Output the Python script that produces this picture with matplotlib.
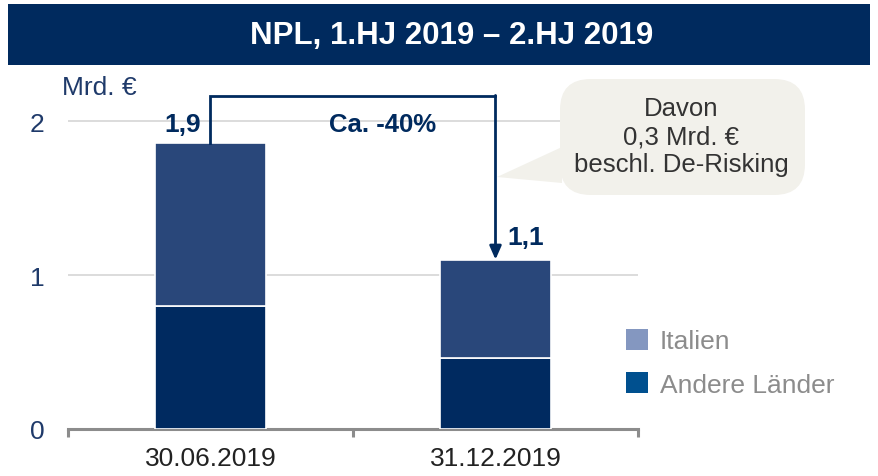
import matplotlib.pyplot as plt
from matplotlib.patches import Patch, FancyBboxPatch, Polygon, Rectangle

plt.rcParams['font.family'] = ['Liberation Sans', 'DejaVu Sans']

# Data (Mrd. EUR)
dates = ['30.06.2019', '31.12.2019']
andere_laender = [0.80, 0.46]
italien = [1.06, 0.64]
totals_text = ['1,9', '1,1']
change_text = 'Ca. -40%'
yticks = [0, 1, 2]

W, H = 879, 477
navy = '#002A5E'
c_andere = '#002A60'
c_italien = '#29477A'


def px(x, y):
    # figure pixel (from top-left) -> figure fraction
    return x / W, 1 - y / H


fig = plt.figure(figsize=(W / 100, H / 100), dpi=100)

# title bar
fig.patches.append(Rectangle(px(8, 66), 862 / W, 61 / H, transform=fig.transFigure,
                             facecolor=navy, edgecolor='none'))
fig.text(*px(452, 36), 'NPL, 1.HJ 2019 \u2013 2.HJ 2019', color='white', fontsize=22.5,
         fontweight='bold', ha='center', va='center')

ax = fig.add_axes([68 / W, (H - 430) / H, 570 / W, 2.25 * 154 / H])
x = range(len(dates))
totals = [a + b for a, b in zip(andere_laender, italien)]
ax.bar(x, andere_laender, width=0.386, color=c_andere, edgecolor='white', linewidth=1.2, zorder=3)
ax.bar(x, italien, bottom=andere_laender, width=0.386, color=c_italien, edgecolor='white',
       linewidth=1.2, zorder=3)

ax.set_xlim(-0.5, 1.5)
ax.set_ylim(0, 2.25)
ax.set_yticks(yticks)
ax.set_yticklabels([str(v) for v in yticks], fontsize=19, color='#1F3A6A')
ax.tick_params(axis='y', length=0, pad=17)
ax.set_xticks(list(x))
ax.set_xticklabels(dates, fontsize=19, color='#222222')
ax.tick_params(axis='x', which='major', length=0, pad=12)
ax.set_xticks([-0.5, 0.5, 1.5], minor=True)
ax.tick_params(axis='x', which='minor', length=6, width=2.2, color='#8C8C8C', direction='out')
for s in ['top', 'right', 'left']:
    ax.spines[s].set_visible(False)
ax.spines['bottom'].set_color('#8C8C8C')
ax.spines['bottom'].set_linewidth(2.2)
ax.yaxis.grid(True, color='#D9D9D9', linewidth=1.3, zorder=0)
ax.set_axisbelow(True)

# bracket arrow
y_top = 2.16
ax.plot([0, 0, 1], [totals[0], y_top, y_top], color=navy, linewidth=2, zorder=4,
        solid_joinstyle='miter', clip_on=False)
ax.annotate('', xy=(1, totals[1]), xytext=(1, y_top + 0.006),
            arrowprops=dict(arrowstyle='-|>,head_length=0.8,head_width=0.35', color=navy,
                            linewidth=2, shrinkA=0, shrinkB=0), annotation_clip=False, zorder=4)

ax.annotate(totals_text[0], xy=(0, 1.98), xytext=(-9, 0), textcoords='offset pixels',
            ha='right', va='center', fontsize=19, fontweight='bold', color=navy)
ax.annotate(totals_text[1], xy=(1, 1.245), xytext=(12, 0), textcoords='offset pixels',
            ha='left', va='center', fontsize=19, fontweight='bold', color=navy)
ax.text(0.605, 1.98, change_text, ha='center', va='center', fontsize=18.5,
        fontweight='bold', color=navy)

# unit label
fig.text(*px(62, 88), 'Mrd. \u20ac', fontsize=19, color='#1F3A6A', ha='left', va='center')

# callout
fig.patches.append(FancyBboxPatch(px(560, 196), 245 / W, 116 / H,
                                  boxstyle='round,pad=0,rounding_size=0.035',
                                  mutation_aspect=W / H,
                                  transform=fig.transFigure, facecolor='#F2F1EB', edgecolor='none'))
fig.patches.append(Polygon([px(562, 148), px(497, 178), px(562, 184)], closed=True,
                           transform=fig.transFigure, facecolor='#F2F1EB', edgecolor='none'))
fig.text(*px(681, 137), 'Davon\n0,3 Mrd. \u20ac\nbeschl. De-Risking', fontsize=18.5,
         color='#333333', ha='center', va='center', linespacing=1.2)

# legend
handles = [Patch(facecolor='#8497C0', edgecolor='none', label='Italien'),
           Patch(facecolor='#00508F', edgecolor='none', label='Andere L\u00e4nder')]
fig.legend(handles=handles, loc='upper left', bbox_to_anchor=px(602, 306), frameon=False,
           fontsize=19, handlelength=0.85, handleheight=0.85, handletextpad=0.45,
           labelspacing=0.72, labelcolor='#8C8C8C')

fig.savefig('out.png', dpi=100)
